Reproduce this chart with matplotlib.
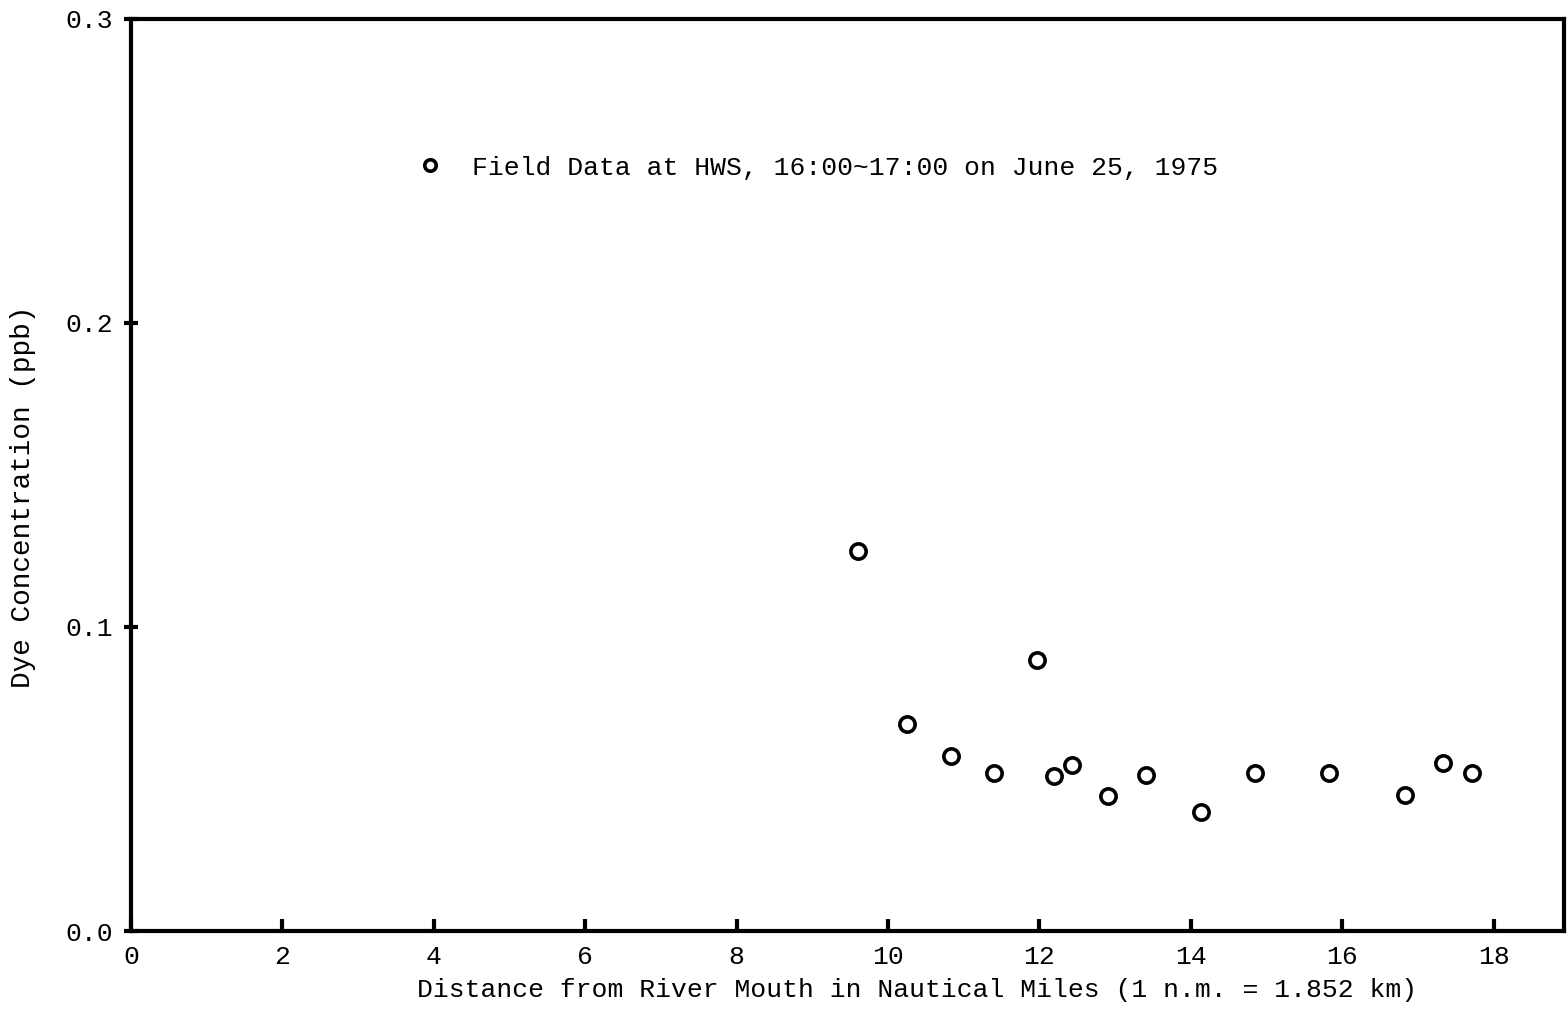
import matplotlib
matplotlib.use("Agg")
import matplotlib.pyplot as plt

# Dye concentration sampled along the estuary
distance_nm = [9.60, 10.25, 10.83, 11.40, 11.97, 12.19, 12.43, 12.91, 13.41,
               14.13, 14.85, 15.83, 16.83, 17.33, 17.71]
dye_ppb = [0.125, 0.068, 0.0575, 0.052, 0.089, 0.051, 0.0547, 0.0445, 0.0514,
           0.039, 0.052, 0.052, 0.0448, 0.0552, 0.052]

x_ticks = [0, 2, 4, 6, 8, 10, 12, 14, 16, 18]
y_ticks = [0.0, 0.1, 0.2, 0.3]
y_tick_labels = ["0.0", "0.1", "0.2", "0.3"]

series_label = "Field Data at HWS, 16:00~17:00 on June 25, 1975"
x_label = "Distance from River Mouth in Nautical Miles (1 n.m. = 1.852 km)"
y_label = "Dye Concentration (ppb)"

plt.rcParams["font.family"] = ["Liberation Mono", "DejaVu Sans Mono"]

fig = plt.figure(figsize=(15.68, 10.09), dpi=100)
ax = fig.add_axes([0.0835, 0.0773, 0.9974 - 0.0835, 0.9812 - 0.0773])

ax.plot(distance_nm, dye_ppb, linestyle="none", marker="o", markersize=11,
        markerfacecolor="white", markeredgecolor="black", markeredgewidth=2.6,
        label=series_label)

ax.set_xlim(0, 18.93)
ax.set_ylim(0, 0.3)
ax.set_xticks(x_ticks)
ax.set_yticks(y_ticks)
ax.set_yticklabels(y_tick_labels)

for side in ax.spines.values():
    side.set_linewidth(3.0)
    side.set_color("black")

ax.tick_params(axis="x", direction="in", length=9, width=3.0, pad=10,
               labelsize=19)
ax.tick_params(axis="y", direction="inout", length=10, width=3.0, pad=8,
               labelsize=19)

ax.set_xlabel(x_label, fontsize=19)
ax.xaxis.set_label_coords(0.5485, -0.052)
ax.set_ylabel(y_label, fontsize=20)
ax.yaxis.set_label_coords(-0.066, 0.476)

leg = ax.legend(loc="center left", bbox_to_anchor=(0.183, 0.837),
                frameon=False, numpoints=1, handlelength=1.0,
                handletextpad=1.1, fontsize=19, markerscale=0.75)

fig.savefig("out.png", dpi=100)
